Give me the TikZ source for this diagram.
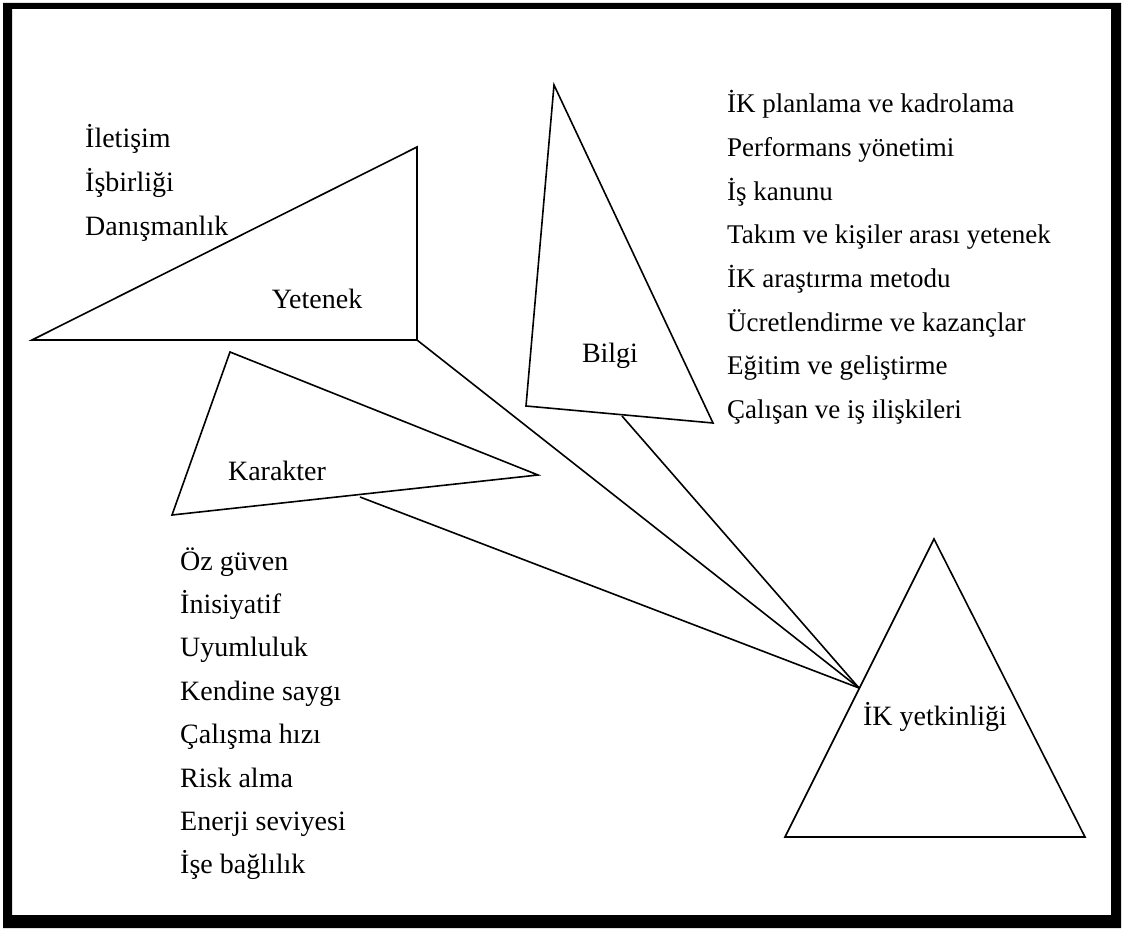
\documentclass[tikz,border=0pt]{standalone}
\usepackage{fontspec}
\setmainfont{Liberation Serif}
\begin{document}
\begin{tikzpicture}
			[x=1pt,y=-1pt,
			 item/.style={anchor=base west,inner sep=0pt,font=\fontsize{28}{32}\selectfont},
			 label/.style={anchor=base,inner sep=0pt,font=\fontsize{28}{32}\selectfont},
			 tri/.style={line width=1.6pt,line join=miter},
			 link/.style={line width=1.6pt}]
			\useasboundingbox (0,0) rectangle (1123,931);
			% frame
			\fill[black,even odd rule] (3,3) rectangle (1121,928) (12,9) rectangle (1111,915);

			% triangles
			\coordinate (Y1) at (32,340);
			\coordinate (Y2) at (417,147);
			\coordinate (Y3) at (417,340);
			\coordinate (B1) at (554,85);
			\coordinate (B2) at (526,406);
			\coordinate (B3) at (713,423);
			\coordinate (K1) at (230,352);
			\coordinate (K2) at (538,475);
			\coordinate (K3) at (172,515);
			\coordinate (I1) at (934,539);
			\coordinate (I2) at (1085,837);
			\coordinate (I3) at (785,837);
			\draw[tri] (Y1) -- (Y2) -- (Y3) -- cycle;
			\draw[tri] (B1) -- (B3) -- (B2) -- cycle;
			\draw[tri] (K1) -- (K2) -- (K3) -- cycle;
			\draw[tri] (I1) -- (I2) -- (I3) -- cycle;

			\node[label] (yetenek) at (317,308) {Yetenek};
			\node[label] (bilgi) at (610,362) {Bilgi};
			\node[label] (karakter) at (277,480) {Karakter};
			\node[label] (ik) at (935,725) {İK yetkinliği};

			% links
			\coordinate (IKin) at (859,688);
			\coordinate (Bout) at (622,416);
			\coordinate (Kout) at (360,497);
			\draw[link] (Y3) -- (IKin);
			\draw[link] (Bout) -- (IKin);
			\draw[link] (Kout) -- (IKin);

			% lists
			\foreach \t [count=\i] in {İletişim,İşbirliği,Danışmanlık}
				\node[item] (yet\i) at (85,{147+44*(\i-1)}) {\t};
			\foreach \t [count=\i] in {İK planlama ve kadrolama,Performans yönetimi,İş kanunu,Takım ve kişiler arası yetenek,İK araştırma metodu,Ücretlendirme ve kazançlar,Eğitim ve geliştirme,Çalışan ve iş ilişkileri}
				\node[item,font=\fontsize{27}{32}\selectfont] (bil\i) at (727,{113+43.6*(\i-1)}) {\t};
			\foreach \t [count=\i] in {Öz güven,İnisiyatif,Uyumluluk,Kendine saygı,Çalışma hızı,Risk alma,Enerji seviyesi,İşe bağlılık}
				\node[item] (kar\i) at (180,{570+43.4*(\i-1)}) {\t};
		\end{tikzpicture}
\end{document}
